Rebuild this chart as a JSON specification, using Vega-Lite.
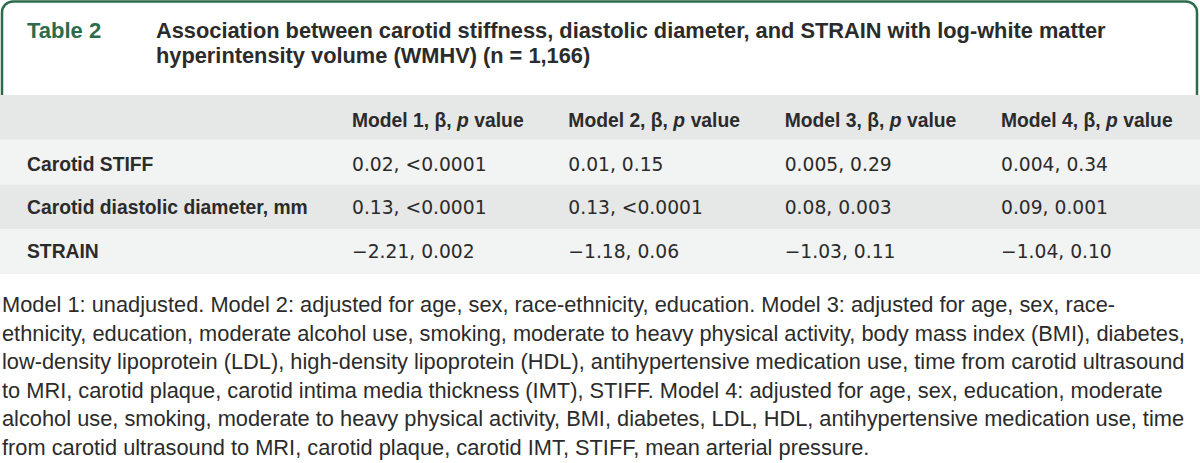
{
  "$schema": "https://vega.github.io/schema/vega-lite/v6.json",
  "padding": 0,
  "spacing": 0,
  "background": "white",
  "config": {"view": {"stroke": null}, "concat": {"spacing": 0}},
  "datasets": {
    "title": [
      {"kind": "tag", "line": 1, "text": "Table 2"},
      {"kind": "title", "line": 1, "text": "Association between carotid stiffness, diastolic diameter, and STRAIN with log-white matter"},
      {"kind": "title", "line": 2, "text": "hyperintensity volume (WMHV) (n = 1,166)"}
    ],
    "bands": [
      {"row": "header"}, {"row": "r1"}, {"row": "r2"}, {"row": "r3"}
    ],
    "cells": [
      {"row": "header", "col": "m1", "text": "Model 1, β,"},
      {"row": "header", "col": "m2", "text": "Model 2, β,"},
      {"row": "header", "col": "m3", "text": "Model 3, β,"},
      {"row": "header", "col": "m4", "text": "Model 4, β,"},
      {"row": "r1", "col": "label", "text": "Carotid STIFF"},
      {"row": "r1", "col": "m1", "text": "0.02, <0.0001"},
      {"row": "r1", "col": "m2", "text": "0.01, 0.15"},
      {"row": "r1", "col": "m3", "text": "0.005, 0.29"},
      {"row": "r1", "col": "m4", "text": "0.004, 0.34"},
      {"row": "r2", "col": "label", "text": "Carotid diastolic diameter, mm"},
      {"row": "r2", "col": "m1", "text": "0.13, <0.0001"},
      {"row": "r2", "col": "m2", "text": "0.13, <0.0001"},
      {"row": "r2", "col": "m3", "text": "0.08, 0.003"},
      {"row": "r2", "col": "m4", "text": "0.09, 0.001"},
      {"row": "r3", "col": "label", "text": "STRAIN"},
      {"row": "r3", "col": "m1", "text": "−2.21, 0.002"},
      {"row": "r3", "col": "m2", "text": "−1.18, 0.06"},
      {"row": "r3", "col": "m3", "text": "−1.03, 0.11"},
      {"row": "r3", "col": "m4", "text": "−1.04, 0.10"}
    ],
    "notes": [
      {"line": 1, "text": "Model 1: unadjusted. Model 2: adjusted for age, sex, race-ethnicity, education. Model 3: adjusted for age, sex, race-"},
      {"line": 2, "text": "ethnicity, education, moderate alcohol use, smoking, moderate to heavy physical activity, body mass index (BMI), diabetes,"},
      {"line": 3, "text": "low-density lipoprotein (LDL), high-density lipoprotein (HDL), antihypertensive medication use, time from carotid ultrasound"},
      {"line": 4, "text": "to MRI, carotid plaque, carotid intima media thickness (IMT), STIFF. Model 4: adjusted for age, sex, education, moderate"},
      {"line": 5, "text": "alcohol use, smoking, moderate to heavy physical activity, BMI, diabetes, LDL, HDL, antihypertensive medication use, time"},
      {"line": 6, "text": "from carotid ultrasound to MRI, carotid plaque, carotid IMT, STIFF, mean arterial pressure."}
    ]
  },
  "vconcat": [
    {
      "width": 1200,
      "height": 95,
      "layer": [
        {
          "data": {"values": [{"part": "frame"}]},
          "mark": {"type": "rect", "fill": "white", "stroke": "#2e6b4c", "strokeWidth": 2.5, "cornerRadius": 11, "clip": true},
          "encoding": {
            "x": {"field": "part", "type": "nominal", "axis": null, "scale": {"type": "band", "domain": ["frame"], "range": [2, 1197], "paddingInner": 0, "paddingOuter": 0}},
            "y": {"field": "part", "type": "nominal", "axis": null, "scale": {"type": "band", "domain": ["frame"], "range": [1.5, 120], "paddingInner": 0, "paddingOuter": 0}}
          }
        },
        {
          "data": {"name": "title"},
          "transform": [{"filter": "datum.kind == 'tag'"}],
          "mark": {"type": "text", "align": "left", "baseline": "alphabetic", "font": "Liberation Sans", "fontWeight": "bold", "fontSize": 22, "color": "#2e6b4c"},
          "encoding": {
            "x": {"field": "kind", "type": "nominal", "axis": null, "scale": {"type": "point", "domain": ["tag", "title"], "range": [27, 156], "padding": 0}},
            "y": {"field": "line", "type": "ordinal", "axis": null, "scale": {"type": "point", "domain": [1, 2], "range": [38, 63], "padding": 0}},
            "text": {"field": "text"}
          }
        },
        {
          "data": {"name": "title"},
          "transform": [{"filter": "datum.kind == 'title'"}],
          "mark": {"type": "text", "align": "left", "baseline": "alphabetic", "font": "Liberation Sans", "fontWeight": "bold", "fontSize": 21.8, "color": "#2b2b2b"},
          "encoding": {
            "x": {"field": "kind", "type": "nominal", "axis": null, "scale": {"type": "point", "domain": ["tag", "title"], "range": [27, 156], "padding": 0}},
            "y": {"field": "line", "type": "ordinal", "axis": null, "scale": {"type": "point", "domain": [1, 2], "range": [38, 63], "padding": 0}},
            "text": {"field": "text"}
          }
        }
      ],
      "resolve": {"scale": {"x": "independent", "y": "independent"}}
    },
    {
      "width": 1200,
      "height": 179,
      "layer": [
        {
          "data": {"name": "bands"},
          "mark": {"type": "rect"},
          "encoding": {
            "y": {"field": "row", "type": "nominal", "axis": null, "scale": {"type": "band", "domain": ["header", "r1", "r2", "r3"], "range": [0, 179], "paddingInner": 0, "paddingOuter": 0}},
            "color": {"field": "row", "type": "nominal", "legend": null, "scale": {"domain": ["header", "r1", "r2", "r3"], "range": ["#e6e7e7", "#f2f3f3", "#e6e7e7", "#f2f3f3"]}}
          }
        },
        {
          "data": {"name": "cells"},
          "transform": [{"filter": "datum.col == 'label'"}],
          "mark": {"type": "text", "align": "left", "baseline": "middle", "font": "Liberation Sans", "fontWeight": "bold", "fontSize": 19.3, "color": "#2b2b2b"},
          "encoding": {
            "x": {"field": "col", "type": "nominal", "axis": null, "scale": {"type": "point", "domain": ["label"], "range": [27, 27], "padding": 0}},
            "y": {"field": "row", "type": "nominal", "axis": null, "scale": {"type": "point", "domain": ["header", "r1", "r2", "r3"], "range": [26, 157], "padding": 0}},
            "text": {"field": "text"}
          }
        },
        {
          "data": {"name": "cells"},
          "transform": [{"filter": "datum.col != 'label' && datum.row != 'header'"}],
          "mark": {"type": "text", "align": "left", "baseline": "middle", "font": "DejaVu Sans", "fontSize": 18.7, "color": "#2b2b2b"},
          "encoding": {
            "x": {"field": "col", "type": "nominal", "axis": null, "scale": {"type": "point", "domain": ["m1", "m2", "m3", "m4"], "range": [352, 1001], "padding": 0}},
            "y": {"field": "row", "type": "nominal", "axis": null, "scale": {"type": "point", "domain": ["header", "r1", "r2", "r3"], "range": [26, 157], "padding": 0}},
            "text": {"field": "text"}
          }
        },
        {
          "data": {"name": "cells"},
          "transform": [{"filter": "datum.row == 'header'"}],
          "mark": {"type": "text", "align": "left", "baseline": "middle", "font": "Liberation Sans", "fontWeight": "bold", "fontSize": 19.3, "color": "#2b2b2b"},
          "encoding": {
            "x": {"field": "col", "type": "nominal", "axis": null, "scale": {"type": "point", "domain": ["m1", "m2", "m3", "m4"], "range": [352, 1001], "padding": 0}},
            "y": {"field": "row", "type": "nominal", "axis": null, "scale": {"type": "point", "domain": ["header", "r1", "r2", "r3"], "range": [26, 157], "padding": 0}},
            "text": {"field": "text"}
          }
        },
        {
          "data": {"name": "cells"},
          "transform": [{"filter": "datum.row == 'header'"}],
          "mark": {"type": "text", "text": "p", "dx": 105, "align": "left", "baseline": "middle", "font": "Liberation Sans", "fontWeight": "bold", "fontStyle": "italic", "fontSize": 19.3, "color": "#2b2b2b"},
          "encoding": {
            "x": {"field": "col", "type": "nominal", "axis": null, "scale": {"type": "point", "domain": ["m1", "m2", "m3", "m4"], "range": [352, 1001], "padding": 0}},
            "y": {"field": "row", "type": "nominal", "axis": null, "scale": {"type": "point", "domain": ["header", "r1", "r2", "r3"], "range": [26, 157], "padding": 0}}
          }
        },
        {
          "data": {"name": "cells"},
          "transform": [{"filter": "datum.row == 'header'"}],
          "mark": {"type": "text", "text": "value", "dx": 122.3, "align": "left", "baseline": "middle", "font": "Liberation Sans", "fontWeight": "bold", "fontSize": 19.3, "color": "#2b2b2b"},
          "encoding": {
            "x": {"field": "col", "type": "nominal", "axis": null, "scale": {"type": "point", "domain": ["m1", "m2", "m3", "m4"], "range": [352, 1001], "padding": 0}},
            "y": {"field": "row", "type": "nominal", "axis": null, "scale": {"type": "point", "domain": ["header", "r1", "r2", "r3"], "range": [26, 157], "padding": 0}}
          }
        }
      ],
      "resolve": {"scale": {"x": "independent", "y": "independent", "color": "independent"}}
    },
    {
      "width": 1200,
      "height": 189,
      "data": {"name": "notes"},
      "mark": {"type": "text", "align": "left", "baseline": "alphabetic", "font": "Liberation Sans", "fontSize": 21.8, "color": "#2b2b2b"},
      "encoding": {
        "x": {"datum": "note", "type": "nominal", "axis": null, "scale": {"type": "point", "domain": ["note"], "range": [2, 2], "padding": 0}},
        "y": {"field": "line", "type": "ordinal", "axis": null, "scale": {"type": "point", "domain": [1, 2, 3, 4, 5, 6], "range": [38, 181], "padding": 0}},
        "text": {"field": "text"}
      }
    }
  ]
}
